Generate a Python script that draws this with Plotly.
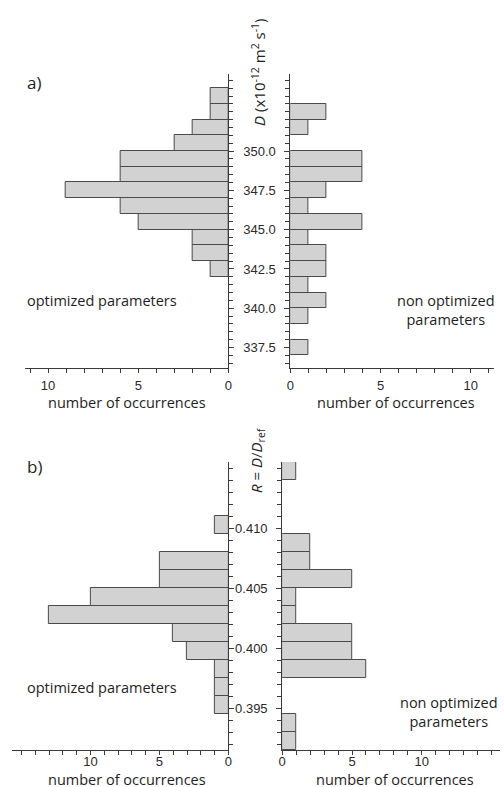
import plotly.graph_objects as go

# ---------------- data ----------------
# panel a) : D (x10^-12 m2 s-1), bins of width 1.0, lower edges
D_bin_lo = [337, 338, 339, 340, 341, 342, 343, 344, 345, 346, 347, 348, 349, 350, 351, 352, 353]
D_bin_w = 1.0
D_opt = [0, 0, 0, 0, 0, 1, 2, 2, 5, 6, 9, 6, 6, 3, 2, 1, 1]
D_nonopt = [1, 0, 1, 2, 1, 2, 2, 1, 4, 1, 2, 4, 4, 0, 1, 2, 0]
D_ticks = [337.5, 340.0, 342.5, 345.0, 347.5, 350.0]

# panel b) : R = D/Dref, bins of width 0.0015, lower edges
R_bin_lo = [0.3915, 0.3930, 0.3945, 0.3960, 0.3975, 0.3990, 0.4005, 0.4020,
            0.4035, 0.4050, 0.4065, 0.4080, 0.4095, 0.4110, 0.4125, 0.4140]
R_bin_w = 0.0015
R_opt = [0, 0, 1, 1, 1, 3, 4, 13, 10, 5, 5, 0, 1, 0, 0, 0]
R_nonopt = [1, 1, 0, 0, 6, 5, 5, 1, 1, 5, 2, 2, 0, 0, 0, 1]
R_ticks = [0.395, 0.400, 0.405, 0.410]

count_ticks = [0, 5, 10]

W, H = 504, 787
def px(x):
    return x / W
def py(y):
    return 1 - y / H

BAR_FILL = "#d2d2d2"
BAR_LINE = "#4a4a4a"
AX = "#3a3a3a"
TXT = "#1e1e1e"
TICKFONT = dict(family="Liberation Sans, Arial", size=13, color="#2a2a2a")
LBLFONT = dict(family="Open Sans, Noto Sans", size=14.5, color=TXT)

fig = go.Figure()

def add_hist(lo, w, counts, xa, ya):
    xs, ys = [], []
    for l, c in zip(lo, counts):
        if c > 0:
            xs.append(c)
            ys.append(l + w / 2)
    fig.add_trace(go.Bar(x=xs, y=ys, width=w, orientation="h", xaxis=xa, yaxis=ya,
                         marker=dict(color=BAR_FILL, line=dict(color=BAR_LINE, width=1)),
                         showlegend=False, hoverinfo="x+y"))

add_hist(D_bin_lo, D_bin_w, D_opt, "x", "y")
add_hist(D_bin_lo, D_bin_w, D_nonopt, "x2", "y2")
add_hist(R_bin_lo, R_bin_w, R_opt, "x3", "y3")
add_hist(R_bin_lo, R_bin_w, R_nonopt, "x4", "y4")

def xax(domain, rng, anchor, standoff=0):
    return dict(domain=domain, range=rng, anchor=anchor, showline=True, linecolor=AX, linewidth=1,
                ticks="outside", ticklen=4, tickcolor=AX, tickwidth=1, tickmode="array",
                tickvals=count_ticks, ticktext=[str(v) for v in count_ticks],
                minor=dict(dtick=1, tick0=0, ticks="outside", ticklen=4, tickcolor=AX),
                ticklabelstandoff=standoff,
                showgrid=False, zeroline=False, tickfont=TICKFONT, fixedrange=True)

def yax(domain, rng, anchor, side, labels, tvals, mtick0, mdtick, fmt):
    return dict(domain=domain, range=rng, anchor=anchor, side=side, showline=True, linecolor=AX, linewidth=1,
                ticks="outside", ticklen=5, tickcolor=AX, tickwidth=1, tickmode="array",
                tickvals=tvals, ticktext=[format(v, fmt) for v in tvals],
                minor=dict(dtick=mdtick, tick0=mtick0, ticks="outside", ticklen=4, tickcolor=AX),
                showticklabels=labels, ticklabelstandoff=6,
                showgrid=False, zeroline=False, tickfont=TICKFONT, fixedrange=True)

top_dom = [py(368), py(74)]
bot_dom = [py(750), py(462)]

fig.update_layout(
    width=W, height=H, margin=dict(l=0, r=0, t=0, b=0),
    paper_bgcolor="white", plot_bgcolor="white", bargap=0,
    xaxis=xax([px(21), px(228)], [11.3, 0], "y", 1),
    yaxis=yax(top_dom, [336.2, 354.9], "x", "right", False, D_ticks, 337.5, 0.5, ".1f"),
    xaxis2=xax([px(291), px(498)], [0, 11.3], "y2", 1),
    yaxis2=yax(top_dom, [336.2, 354.9], "x2", "left", True, D_ticks, 337.5, 0.5, ".1f"),
    xaxis3=xax([px(8), px(228)], [15.7, 0], "y3", -5),
    yaxis3=yax(bot_dom, [0.3915, 0.4155], "x3", "right", False, R_ticks, 0.395, 0.001, ".3f"),
    xaxis4=xax([px(282.7), 1.0], [0, 15.6], "y4", -5),
    yaxis4=yax(bot_dom, [0.3915, 0.4155], "x4", "left", True, R_ticks, 0.395, 0.001, ".3f"),
)

ann = []
def text(s, x, y, size=14.5, align="center", angle=0, xanchor="center"):
    f = dict(LBLFONT)
    f["size"] = size
    ann.append(dict(text=s, x=px(x), y=py(y), xref="paper", yref="paper", showarrow=False,
                    xanchor=xanchor, yanchor="middle", align=align, textangle=angle, font=f))

text("a)", 30, 82, size=17)
text("b)", 31, 467, size=17)
text("<i>D</i> (x10<sup>-12</sup> m<sup>2</sup> s<sup>-1</sup>)", 258, 72, size=15, angle=-90)
text("<i>R</i> = <i>D</i>/<i>D</i><sub>ref</sub>", 257, 460, size=15, angle=-90)
text("optimized parameters", 21, 300, xanchor="left")
text("optimized parameters", 21, 687, xanchor="left")
text("non optimized<br>parameters", 449, 310)
text("non optimized<br>parameters", 452, 712)
text("number of occurrences", 125, 402)
text("number of occurrences", 398, 402)
text("number of occurrences", 125, 779)
text("number of occurrences", 397, 779)
fig.update_layout(annotations=ann)

fig.write_html("out.html", config={"displayModeBar": False},
               post_script="document.body.style.margin='0';document.body.style.overflow='hidden';")
